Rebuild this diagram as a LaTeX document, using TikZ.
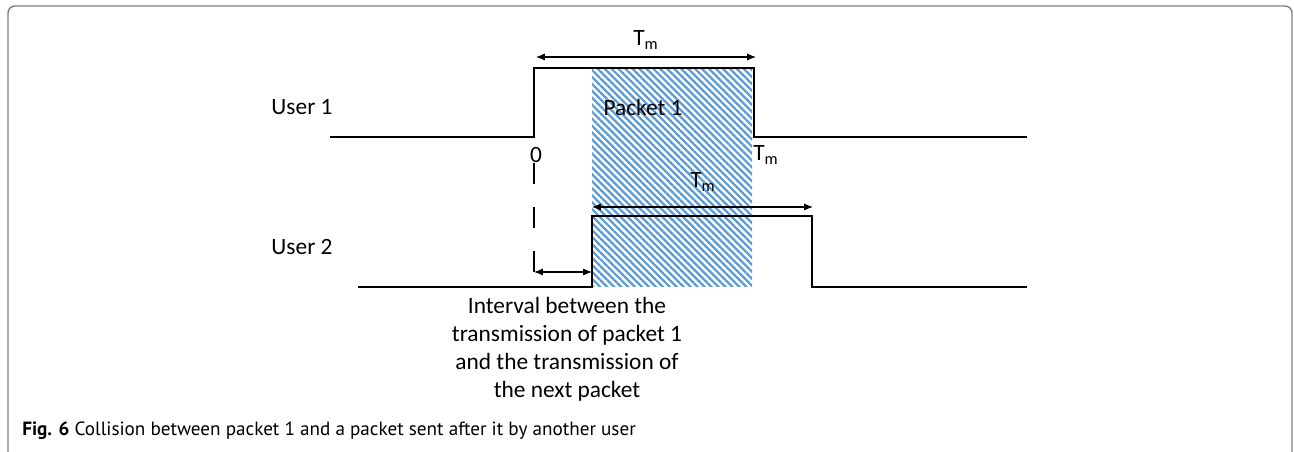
\documentclass[tikz,border=0pt]{standalone}
\usepackage{fontspec}
\setmainfont{Carlito}
\newfontfamily\capfont{PT Sans}
\usetikzlibrary{patterns.meta, arrows.meta}
\definecolor{hatchblue}{RGB}{91,155,213}

\begin{document}
\begin{tikzpicture}[x=0.02cm, y=-0.02cm]

\tikzset{signal/.style={line width=1.1pt, line join=miter}}
\tikzset{span/.style={{Latex[length=5pt,width=4pt]}-{Latex[length=5pt,width=4pt]}, line width=0.6pt}}
\tikzset{txt/.style={font=\fontsize{13.3}{15.9}\selectfont, inner sep=0pt}}
\tikzset{hatch/.style={pattern={Lines[angle=-45, distance=2.8pt, line width=1.3pt]}, pattern color=hatchblue}}
\tikzset{marker/.style={line width=0.8pt, dash pattern=on 12pt off 13pt}}

\useasboundingbox (0,0) rectangle (1294,452);
\draw[gray, line width=0.8pt, rounded corners=4pt] (8,470) -- (8,6) -- (1292,6) -- (1292,470);

\fill[hatch] (592,68) rectangle (752,287);

\coordinate (u1a) at (330,137);
\coordinate (u1b) at (534,137);
\coordinate (u1c) at (534,68);
\coordinate (u1d) at (754,68);
\coordinate (u1e) at (754,137);
\coordinate (u1f) at (1027,137);
\coordinate (u2a) at (358,287);
\coordinate (u2b) at (592,287);
\coordinate (u2c) at (592,216);
\coordinate (u2d) at (812,216);
\coordinate (u2e) at (812,287);
\coordinate (u2f) at (1027,287);
\draw[signal] (u1a) -- (u1b) -- (u1c) -- (u1d) -- (u1e) -- (u1f);
\draw[signal] (u2a) -- (u2b) -- (u2c) -- (u2d) -- (u2e) -- (u2f);

\node[txt] (user1) at (302,107) {User 1};
\node[txt] (user2) at (302,247) {User 2};
\node[txt] (packet) at (643,107) {Packet 1};
\node[txt] (zero) at (536,155) {0};
\node[txt] (tmend) at (766,155) {T\textsubscript{m}};
\node[txt] (tmtop) at (646,40) {T\textsubscript{m}};
\node[txt] (tmmid) at (703,182) {T\textsubscript{m}};

\coordinate (tm1l) at (536,57);
\coordinate (tm1r) at (756,57);
\coordinate (tm2l) at (592,207);
\coordinate (tm2r) at (813,207);
\coordinate (int1) at (534,272);
\coordinate (int2) at (592,272);
\coordinate (dash1) at (534,163);
\coordinate (dash2) at (534,287);
\draw[span] (tm1l) -- (tm1r);
\draw[span] (tm2l) -- (tm2r);
\draw[span] (int1) -- (int2);
\draw[marker] (dash1) -- (dash2);

\node[txt, align=center] (interval) at (567,349) {Interval between the\\transmission of packet 1\\and the transmission of\\the next packet};

\node[anchor=base west, inner sep=0pt, font=\capfont\fontsize{10.9}{12}\selectfont] (caption) at (22,435) {\textbf{Fig. 6} Collision between packet 1 and a packet sent after it by another user};

\end{tikzpicture}
\end{document}
